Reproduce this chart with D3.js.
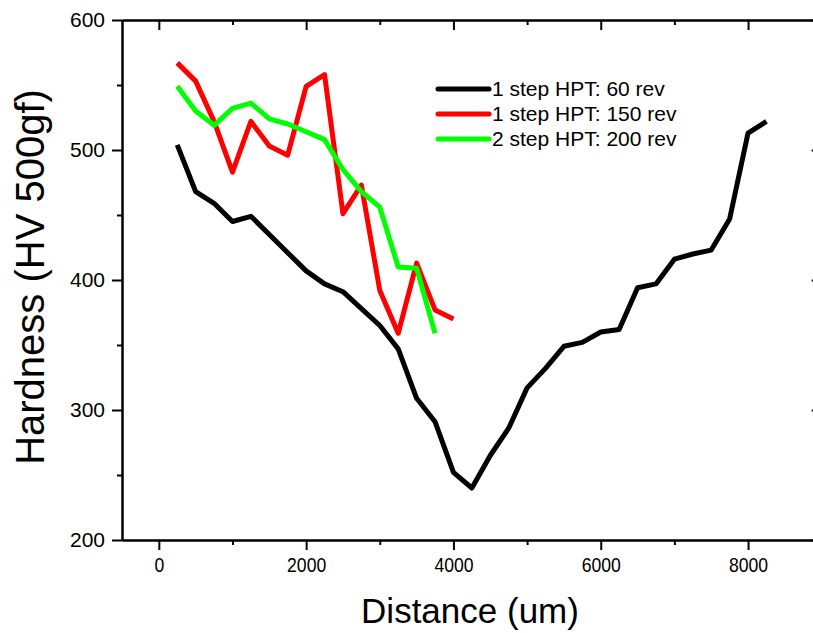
<!DOCTYPE html>
<html>
<head>
<meta charset="utf-8">
<script src="https://cdn.jsdelivr.net/npm/d3@7/dist/d3.min.js"></script>
<style>
  html, body { margin: 0; padding: 0; background: #fff; }
  svg { display: block; }
  text { font-family: "Liberation Sans", Arial, sans-serif; fill: #000; }
</style>
</head>
<body>
<svg id="chart" width="813" height="633"></svg>
<script>
// Micro-hardness profiles across the disc (distance in um, hardness HV 500gf)
const distance60 = [250, 500, 750, 1000, 1250, 1500, 1750, 2000, 2250, 2500, 2750, 3000, 3250, 3500, 3750, 4000, 4250, 4500, 4750, 5000, 5250, 5500, 5750, 6000, 6250, 6500, 6750, 7000, 7250, 7500, 7750, 8000, 8250];
const hardness60 = [504, 468, 459, 445, 449, 435, 421, 407, 397, 391, 378, 365, 347, 309, 291, 252, 240, 265, 286, 317, 332, 349, 352, 360, 362, 394, 397, 416, 420, 423, 447, 513, 522];

const distance150 = [250, 500, 750, 1000, 1250, 1500, 1750, 2000, 2250, 2500, 2750, 3000, 3250, 3500, 3750, 4000];
const hardness150 = [567, 553, 522, 483, 522, 503, 496, 549, 558, 451, 473, 392, 359, 413, 377, 370];

const distance200 = [250, 500, 750, 1000, 1250, 1500, 1750, 2000, 2250, 2500, 2750, 3000, 3250, 3500, 3750];
const hardness200 = [549, 530, 519, 532, 536, 524, 520, 514, 508, 485, 468, 456, 410, 409, 359];

const seriesNames = ["1 step HPT: 60 rev", "1 step HPT: 150 rev", "2 step HPT: 200 rev"];
const seriesColors = ["#000000", "#ff0000", "#00ff00"];

const xMajorTicks = [0, 2000, 4000, 6000, 8000];
const xMinorTicks = [1000, 3000, 5000, 7000, 9000];
const yMajorTicks = [200, 300, 400, 500, 600];
const yMinorTicks = [250, 350, 450, 550];

const svg = d3.select("#chart");
const plotLeft = 122, plotTop = 20, plotBottom = 540, plotRight = 821.7;

const x = d3.scaleLinear().domain([-500, 9000]).range([plotLeft, plotRight]);
const y = d3.scaleLinear().domain([200, 600]).range([plotBottom, plotTop]);

const axisStyle = g => {
  g.select(".domain").attr("stroke", "#000").attr("stroke-width", 2);
  g.selectAll(".tick line").attr("stroke", "#000").attr("stroke-width", 2);
};

// bottom axis: labelled major ticks outward, short minor ticks
svg.append("g").attr("transform", `translate(0,${plotBottom})`)
  .call(d3.axisBottom(x).tickValues(xMajorTicks).tickSize(10).tickPadding(8).tickFormat(d3.format("d")).tickSizeOuter(0))
  .call(axisStyle)
  .call(g => g.selectAll("text")
    .attr("font-size", 20)
    .attr("font-family", "Liberation Sans, Arial, sans-serif")
    .attr("transform", "scale(0.88,1)"));
svg.append("g").attr("transform", `translate(0,${plotBottom})`)
  .call(d3.axisBottom(x).tickValues(xMinorTicks).tickSize(5).tickFormat("").tickSizeOuter(0))
  .call(axisStyle);

// top axis: inward ticks, no labels
svg.append("g").attr("transform", `translate(0,${plotTop})`)
  .call(d3.axisBottom(x).tickValues(xMajorTicks).tickSize(10).tickFormat("").tickSizeOuter(0))
  .call(axisStyle);
svg.append("g").attr("transform", `translate(0,${plotTop})`)
  .call(d3.axisBottom(x).tickValues(xMinorTicks).tickSize(5).tickFormat("").tickSizeOuter(0))
  .call(axisStyle);

// left axis
svg.append("g").attr("transform", `translate(${plotLeft},0)`)
  .call(d3.axisLeft(y).tickValues(yMajorTicks).tickSize(10).tickPadding(7).tickFormat(d3.format("d")).tickSizeOuter(0))
  .call(axisStyle)
  .call(g => g.selectAll("text").attr("font-size", 21).attr("font-family", "Liberation Sans, Arial, sans-serif"));
svg.append("g").attr("transform", `translate(${plotLeft},0)`)
  .call(d3.axisLeft(y).tickValues(yMinorTicks).tickSize(5).tickFormat("").tickSizeOuter(0))
  .call(axisStyle);

// right axis: inward ticks
svg.append("g").attr("transform", `translate(${plotRight},0)`)
  .call(d3.axisRight(y).tickValues(yMajorTicks).tickSize(-10).tickFormat("").tickSizeOuter(0))
  .call(axisStyle);
svg.append("g").attr("transform", `translate(${plotRight},0)`)
  .call(d3.axisRight(y).tickValues(yMinorTicks).tickSize(-5).tickFormat("").tickSizeOuter(0))
  .call(axisStyle);

// profiles
const line = d3.line().x(d => x(d[0])).y(d => y(d[1]));
const series = [
  d3.zip(distance60, hardness60),
  d3.zip(distance150, hardness150),
  d3.zip(distance200, hardness200)
];
series.forEach((pts, i) => {
  svg.append("path")
    .datum(pts)
    .attr("fill", "none")
    .attr("stroke", seriesColors[i])
    .attr("stroke-width", 5)
    .attr("stroke-linejoin", "round")
    .attr("d", line);
});

// legend
const legend = svg.append("g").attr("transform", "translate(438,89)");
seriesNames.forEach((name, i) => {
  const row = legend.append("g").attr("transform", `translate(0,${i * 25})`);
  row.append("line").attr("x1", 0).attr("x2", 51).attr("y1", 0).attr("y2", 0)
    .attr("stroke", seriesColors[i]).attr("stroke-width", 5).attr("stroke-linecap", "round");
  row.append("text").attr("x", 54).attr("y", 7).attr("font-size", 21).text(name);
});

// axis titles
svg.append("text")
  .attr("x", 470).attr("y", 623)
  .attr("text-anchor", "middle")
  .attr("font-size", 35)
  .text("Distance (um)");

svg.append("text")
  .attr("transform", "translate(44,277) rotate(-90)")
  .attr("text-anchor", "middle")
  .attr("font-size", 40)
  .text("Hardness (HV 500gf)");
</script>
</body>
</html>
